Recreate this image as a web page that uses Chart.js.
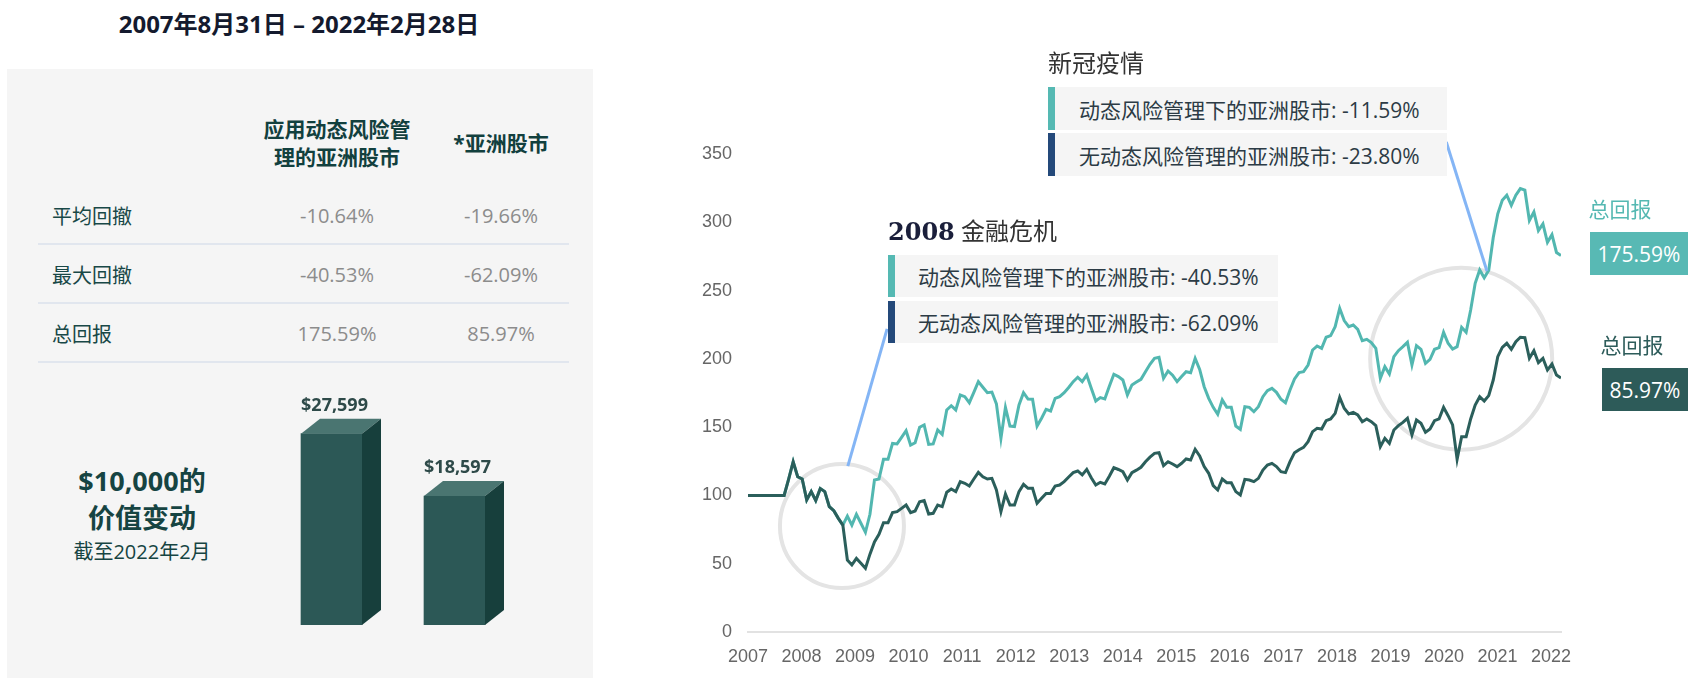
<!DOCTYPE html>
<html>
<head>
<meta charset="utf-8">
<script src="https://cdn.jsdelivr.net/npm/chart.js@4.4.1/dist/chart.umd.min.js"></script>
<style>
  body { margin:0; width:1688px; height:684px; overflow:hidden; position:relative; background:#fff;
         font-family:"Open Sans","Noto Sans CJK SC",sans-serif; }
  .abs { position:absolute; white-space:nowrap; }
  .c { transform:translate(-50%,-50%); }
  .l { transform:translateY(-50%); }
  #panel { position:absolute; left:7px; top:69px; width:586px; height:609px; background:#f5f5f5; }
  .hdr { font-weight:700; font-size:21px; color:#12403e; }
  .row { font-size:20px; color:#184847; }
  .val { font-size:20px; color:#8c8c8c; }
  .rule { position:absolute; left:38px; width:531px; height:2px; background:#e1e6ee; }
  .big { font-weight:700; font-size:27px; color:#164442; }
  .box { position:absolute; background:#f5f5f5; box-sizing:border-box; border-left:7px solid;
         font-size:21px; color:#2c3b45; display:flex; align-items:center; white-space:nowrap; }
  .tag { position:absolute; color:#fff; font-size:21px; display:flex; align-items:center; justify-content:center; }
  canvas { position:absolute; }
</style>
</head>
<body>
<div id="panel"></div>

<div class="abs c" style="left:299px;top:22px;font-weight:700;font-size:24px;color:#141a2e;">2007年8月31日 – 2022年2月28日</div>

<div class="abs c hdr" style="left:337px;top:128px;">应用动态风险管</div>
<div class="abs c hdr" style="left:337px;top:156px;">理的亚洲股市</div>
<div class="abs c hdr" style="left:501px;top:142px;">*亚洲股市</div>
<div id="table"></div>

<div class="abs c big" style="left:142px;top:479px;">$10,000的</div>
<div class="abs c big" style="left:142px;top:516px;">价值变动</div>
<div class="abs c" style="left:142px;top:550px;font-size:20px;color:#164442;">截至2022年2月</div>

<canvas id="bars" width="300" height="260" style="left:250px;top:380px;"></canvas>
<canvas id="lines" width="1088" height="684" style="left:600px;top:0px;"></canvas>

<div class="abs l" style="left:1048px;top:61px;font-size:24px;color:#333;">新冠疫情</div>
<div class="box" style="left:1048px;top:87px;width:399px;height:43px;border-color:#55b9b3;padding-left:24px;">动态风险管理下的亚洲股市: -11.59%</div>
<div class="box" style="left:1048px;top:133px;width:399px;height:43px;border-color:#24497a;padding-left:24px;">无动态风险管理的亚洲股市: -23.80%</div>

<div class="abs l" style="left:888px;top:229px;font-size:24px;color:#333;"><span style="font-family:'DejaVu Serif',serif;font-weight:700;color:#1b1f3b;">2008</span> 金融危机</div>
<div class="box" style="left:888px;top:255px;width:390px;height:42px;border-color:#55b9b3;padding-left:23px;">动态风险管理下的亚洲股市: -40.53%</div>
<div class="box" style="left:888px;top:301px;width:390px;height:42px;border-color:#24497a;padding-left:23px;">无动态风险管理的亚洲股市: -62.09%</div>

<div class="abs c" style="left:1620px;top:208px;font-size:21px;color:#55b8b2;">总回报</div>
<div class="tag" style="left:1590px;top:232px;width:98px;height:43px;background:#58b9b4;">175.59%</div>
<div class="abs c" style="left:1632px;top:344px;font-size:21px;color:#2d5c5a;">总回报</div>
<div class="tag" style="left:1602px;top:368px;width:86px;height:43px;background:#2d5b59;">85.97%</div>

<script>
// Table
const rowLabels = ['平均回撤', '最大回撤', '总回报'];
const drmValues = ['-10.64%', '-40.53%', '175.59%'];
const mktValues = ['-19.66%', '-62.09%', '85.97%'];

// $10,000 growth
const barLabels = ['应用动态风险管理的亚洲股市', '*亚洲股市'];
const barValues = [27599, 18597];

// Monthly index, Aug 2007 - Feb 2022 (start = 100)
const yearLabels = ['2007','2008','2009','2010','2011','2012','2013','2014','2015','2016','2017','2018','2019','2020','2021','2022'];
const asiaMarket = [
  100,100,100,100,100,100,100,100,100,112,124.7,113.7,112.0,96.7,102.8,96.2,105.0,102.8,91.8,88.8,
  83.2,78.3,52.7,49.1,53.9,50.3,46.6,57,66,71.5,80,80,87.4,88.1,90.5,93.0,87.4,88.6,95.4,96.2,
  86.4,86.9,93.0,91.8,102.3,104.7,102.8,110.1,108.9,106.9,112,116.9,113.7,112.0,112.5,104.0,88.1,101.0,93.0,93.0,
  102.8,108.1,105.2,105.2,94.2,97.9,101.5,101.5,106.9,107.6,110.1,113.5,116.7,117.9,115.0,119.1,113,107.6,109.6,108.4,
  114,120.3,119,117.4,111.3,116.7,118.5,120.6,124.7,128,130.8,131.3,121.8,124.7,123,121.1,123.5,126.7,125.9,133.8,
  128.9,121.1,116.2,107.2,104.0,112.0,109.3,109.3,102.8,100.3,111.8,111.3,110.1,112.5,118.6,122.3,123.5,121.1,117.4,116.7,
  124.7,131.3,133.5,135.2,139.4,146.7,149.1,148.6,154.7,156.0,160.1,171.8,163.8,159.6,160.8,158.9,154.0,156.0,154.0,151.1,
  135.7,141.8,138.1,147.9,151.1,153.5,156.5,144.3,155.2,152.8,146.2,148.6,154.7,156.0,164.5,158.4,151.6,126.4,143.0,143.0,
  156.0,166.2,172.3,169.1,173.1,184.5,201.6,208.4,211.4,207.0,212.6,215.8,215.5,200.4,206.0,197.2,200.4,191.8,196.2,188.2,
  186.0
];
const asiaDrm = [
  100,100,100,100,100,100,100,100,100,112,124.7,113.7,112.0,96.7,102.8,96.2,105.0,102.8,91.8,88.8,
  83.2,78.3,84.9,78.3,86.2,79.6,73.0,86.2,111.3,112.0,126.4,126.4,138.1,137.7,142.5,147.4,136.9,138.6,149.9,151.6,
  137.4,137.7,147.9,144.7,162.6,165.7,162.6,173.5,172.3,167.9,175.5,183.3,179.2,175.2,175.7,167.0,141.8,164.5,150.8,150.4,
  166.2,175.2,170.6,170.4,150.8,156.5,163.0,161.8,171.1,172.3,175.2,179,183.3,186.5,183.3,188.2,178.5,169.1,171.6,170.6,
  180,188.7,187,184.5,173.5,180.9,183,185.0,190.6,196,200.4,201.1,185.7,191.1,188,183.3,187.0,190.6,189.9,200.4,
  192.3,179.6,171.1,164.5,159.4,169.9,164.5,164.5,150.8,148.4,165.0,164.5,161.3,165.0,172.3,176.7,178.4,175.5,170.4,167.9,
  177.2,185.3,190,190.6,195.5,206.5,209.4,207.7,215.8,217.0,223.6,237.0,228.0,223.6,224.8,221.6,213.3,214.3,211.9,207.7,
  185.7,194.3,188.9,201.6,206.0,208.9,212.1,195.5,209.7,207.0,196.7,199.7,207.0,208.2,219.4,211.4,207.2,208.9,223.1,219.4,
  235.8,255.3,265.1,259.4,264.8,288.9,306.2,316.1,319.8,312.4,319.8,324.7,323.5,301.3,307.5,293.9,298.8,285.3,290.9,277.9,
  275.6
];

// Highlight circles and callout lines, in (month index, index value)
const circles = [ { m: 20.8, v: 77.6, r: 62 }, { m: 157.9, v: 200, r: 91 } ];
const callouts = [ [22.1, 121.5, 30.8, 221.9], [154.6, 358.8, 163.6, 264.3] ];
const YEAR_STEP = 177.8 / 15;

// table rows
const table = document.getElementById('table');
const rowY = [215, 274, 333];
rowLabels.forEach((lab, i) => {
  table.insertAdjacentHTML('beforeend',
    `<div class="abs l row" style="left:52px;top:${rowY[i]}px;">${lab}</div>` +
    `<div class="abs c val" style="left:337px;top:${rowY[i]}px;">${drmValues[i]}</div>` +
    `<div class="abs c val" style="left:501px;top:${rowY[i]}px;">${mktValues[i]}</div>` +
    `<div class="rule" style="top:${rowY[i] + 28}px;"></div>`);
});

// 3D bars
const DX = 19, DY = 15;
const bars3d = {
  id: 'bars3d',
  afterDatasetsDraw(chart) {
    const ctx = chart.ctx;
    chart.getDatasetMeta(0).data.forEach((bar, i) => {
      const { x, y, base, width } = bar.getProps(['x', 'y', 'base', 'width'], true);
      const l = x - width / 2, r = x + width / 2;
      ctx.save();
      ctx.fillStyle = '#4a7571';
      ctx.beginPath(); ctx.moveTo(l, y); ctx.lineTo(l + DX, y - DY); ctx.lineTo(r + DX, y - DY); ctx.lineTo(r, y); ctx.closePath(); ctx.fill();
      ctx.fillStyle = '#173f3c';
      ctx.beginPath(); ctx.moveTo(r, y); ctx.lineTo(r + DX, y - DY); ctx.lineTo(r + DX, base - DY); ctx.lineTo(r, base); ctx.closePath(); ctx.fill();
      ctx.fillStyle = '#2e4a49';
      ctx.font = '700 18px "Open Sans", sans-serif';
      ctx.textAlign = 'center';
      ctx.textBaseline = 'middle';
      ctx.fillText('$' + barValues[i].toLocaleString('en-US'), x + 3, y - DY - 13);
      ctx.restore();
    });
  }
};

new Chart(document.getElementById('bars'), {
  type: 'bar',
  data: { labels: barLabels, datasets: [{ data: barValues, backgroundColor: '#2c5856', barThickness: 61 }] },
  options: {
    responsive: false, animation: false,
    layout: { padding: { left: 20, right: 34, top: 37, bottom: 15 } },
    plugins: { legend: { display: false }, tooltip: { enabled: false } },
    scales: { x: { display: false }, y: { display: false, min: 0, max: 30000 } }
  },
  plugins: [bars3d]
});

// line chart annotations
const annotate = {
  id: 'annotate',
  beforeDatasetsDraw(chart) {
    const { ctx, scales: { x, y } } = chart;
    ctx.save();
    ctx.strokeStyle = '#e4e4e4';
    ctx.lineWidth = 4;
    circles.forEach(c => {
      ctx.beginPath();
      ctx.arc(x.getPixelForValue(c.m), y.getPixelForValue(c.v), c.r, 0, Math.PI * 2);
      ctx.stroke();
    });
    ctx.restore();
  },
  afterDatasetsDraw(chart) {
    const { ctx, scales: { x, y } } = chart;
    ctx.save();
    ctx.strokeStyle = '#84b5f5';
    ctx.lineWidth = 3;
    callouts.forEach(([m1, v1, m2, v2]) => {
      ctx.beginPath();
      ctx.moveTo(x.getPixelForValue(m1), y.getPixelForValue(v1));
      ctx.lineTo(x.getPixelForValue(m2), y.getPixelForValue(v2));
      ctx.stroke();
    });
    ctx.restore();
  }
};

const toPoints = arr => arr.map((v, i) => ({ x: i, y: v }));
const tickFont = { family: '"Liberation Sans", Arial, sans-serif', size: 18 };

new Chart(document.getElementById('lines'), {
  type: 'line',
  data: {
    datasets: [
      { label: '*亚洲股市', data: toPoints(asiaMarket), borderColor: '#2b5f5b', borderWidth: 3, pointRadius: 0, tension: 0 },
      { label: '应用动态风险管理的亚洲股市', data: toPoints(asiaDrm), borderColor: '#52b7b0', borderWidth: 3, pointRadius: 0, tension: 0 }
    ]
  },
  options: {
    responsive: false, animation: false,
    layout: { padding: { left: 0, right: 127, top: 154, bottom: 0 } },
    plugins: { legend: { display: false }, tooltip: { enabled: false } },
    scales: {
      x: {
        type: 'linear', min: 0, max: asiaMarket.length - 1,
        grid: { display: false, drawTicks: false },
        border: { display: true, color: '#e2e2e2', width: 2 },
        afterBuildTicks: s => { s.ticks = yearLabels.map((_, i) => ({ value: i * YEAR_STEP })); },
        afterFit: s => { s.height = 52; },
        ticks: { autoSkip: false, maxRotation: 0, padding: 14, color: '#666', font: tickFont,
                 callback: (v, i) => yearLabels[i] }
      },
      y: {
        min: 0, max: 350,
        grid: { display: false, drawTicks: false },
        border: { display: false },
        afterFit: s => { s.width = 148; },
        ticks: { stepSize: 50, padding: 16, color: '#666', font: tickFont }
      }
    }
  },
  plugins: [annotate]
});
</script>
</body>
</html>
